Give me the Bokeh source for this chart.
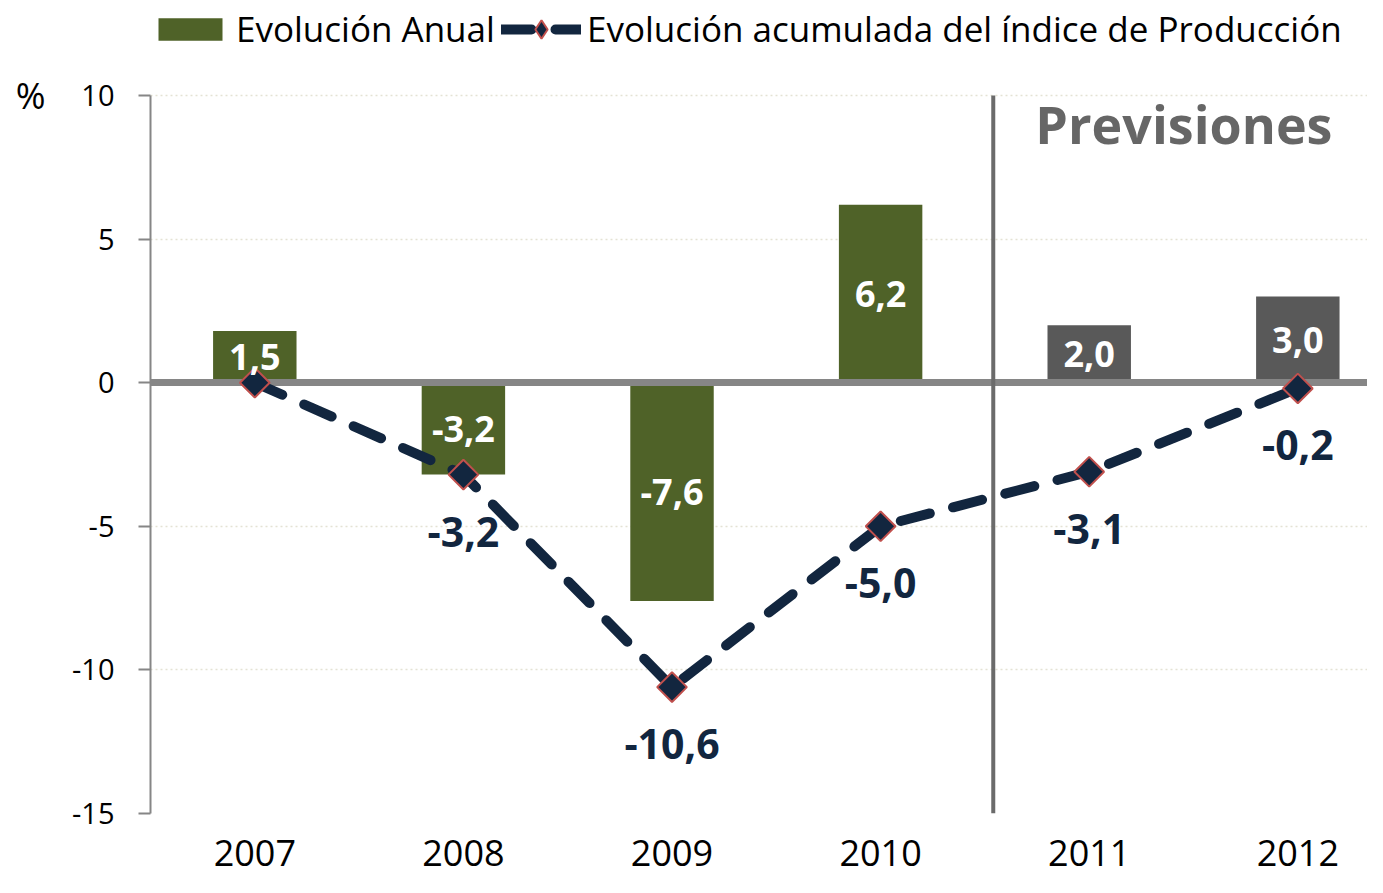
import math
from bokeh.plotting import figure
from bokeh.models import (Legend, LegendItem, Label, FixedTicker, ColumnDataSource,
                          Range1d, LinearAxis)
from bokeh.embed import file_html
from bokeh.resources import INLINE
from bokeh.core.properties import value

# ---------------- data ----------------
years = ["2007", "2008", "2009", "2010", "2011", "2012"]
annual = [1.8, -3.2, -7.6, 6.2, 2.0, 3.0]          # bar heights as drawn
annual_labels = ["1,5", "-3,2", "-7,6", "6,2", "2,0", "3,0"]
cumulative = [0.0, -3.2, -10.6, -5.0, -3.1, -0.2]
cumulative_labels = ["", "-3,2", "-10,6", "-5,0", "-3,1", "-0,2"]
is_forecast = [False, False, False, False, True, True]
forecast_split = 3.54
y_ticks = [-15, -10, -5, 0, 5, 10]
y_tick_labels = ["-15", "-10", "-5", "0", "5", "10"]

# ---------------- styles ----------------
GREEN = "#4F6228"
DARKGRAY = "#595959"
NAVY = "#12263F"
RED = "#C0504D"
FONT = "Open Sans"

idx = list(range(len(years)))
src = ColumnDataSource(dict(
    x=idx,
    annual=annual,
    half=[v / 2 for v in annual],
    alab=annual_labels,
    cum=cumulative,
    clab=cumulative_labels,
    color=[DARKGRAY if f else GREEN for f in is_forecast],
))

W, H = 1367, 877
Y_MIN, Y_MAX = y_ticks[0], y_ticks[-1]
# frame reaches the top of the canvas so that the legend can live inside it;
# the axis itself is bounded to the real value range
p = figure(width=W, height=H,
           x_range=Range1d(-0.5, 5.334), y_range=Range1d(Y_MIN, 13.308),
           output_backend="svg", toolbar_location=None,
           min_border_left=150, min_border_right=0,
           min_border_top=0, min_border_bottom=64)
p.outline_line_color = None
p.background_fill_color = "white"

# grid
p.xgrid.grid_line_color = None
p.ygrid.ticker = FixedTicker(ticks=y_ticks)
p.ygrid.grid_line_color = "#E4E2D4"
p.ygrid.grid_line_dash = "2 3"
p.ygrid.grid_line_width = 1.5

# y axis
p.yaxis.bounds = (Y_MIN, Y_MAX)
p.yaxis.ticker = FixedTicker(ticks=y_ticks)
p.yaxis.major_label_overrides = {t: s for t, s in zip(y_ticks, y_tick_labels)}
p.yaxis.axis_line_color = "#868686"
p.yaxis.axis_line_width = 2
p.yaxis.major_tick_line_color = "#868686"
p.yaxis.major_tick_line_width = 2
p.yaxis.major_tick_out = 12
p.yaxis.major_tick_in = 0
p.yaxis.minor_tick_line_color = None
p.yaxis.major_label_standoff = 24
p.yaxis.major_label_text_font = FONT
p.yaxis.major_label_text_font_size = "29px"
p.yaxis.major_label_text_color = "black"

# "%" unit marker as an outer left axis with a single tick at the top
unit_axis = LinearAxis(ticker=FixedTicker(ticks=[Y_MAX]),
                       major_label_overrides={Y_MAX: "%"},
                       axis_line_color=None, major_tick_line_color=None,
                       minor_tick_line_color=None, major_tick_out=0, major_tick_in=0,
                       major_label_standoff=24, major_label_text_font=FONT,
                       major_label_text_font_size="36px", major_label_text_color="black")
p.add_layout(unit_axis, "left")

# x axis
p.xaxis.ticker = FixedTicker(ticks=idx)
p.xaxis.major_label_overrides = {i: y for i, y in zip(idx, years)}
p.xaxis.axis_line_color = None
p.xaxis.major_tick_line_color = None
p.xaxis.minor_tick_line_color = None
p.xaxis.major_label_standoff = 20
p.xaxis.major_label_text_font = FONT
p.xaxis.major_label_text_font_size = "36px"
p.xaxis.major_label_text_color = "black"

# bars
bars = p.vbar(x="x", top="annual", bottom=0, width=0.40, source=src,
              fill_color="color", line_color=None)

# zero line & forecast separator
p.hspan(y=[0], line_color="#868686", line_width=7)
p.segment(x0=[forecast_split], y0=[Y_MIN], x1=[forecast_split], y1=[Y_MAX],
          line_color="#6B6B6B", line_width=4)

# cumulative line
line_r = p.line(x="x", y="cum", source=src, line_color=NAVY, line_width=10,
                line_dash="30 24", line_cap="round", line_join="round")
pts = p.scatter(x="x", y="cum", source=src, marker="square", angle=math.pi / 4,
                size=21, fill_color=NAVY, line_color=RED, line_width=2)
# diamond used only for the legend swatch (legend swatches ignore marker angle)
legend_pts = p.scatter(x="x", y="cum", source=src, marker="diamond", size=21,
                       fill_color=NAVY, line_color=RED, line_width=2, visible=False)

# data labels
p.text(x="x", y="half", text="alab", source=src, text_align="center",
       text_baseline="middle", text_color="white", text_font=value(FONT),
       text_font_size="36px", text_font_style="bold")
p.text(x="x", y="cum", text="clab", source=src, text_align="center",
       text_baseline="middle", text_color=NAVY, text_font=value(FONT),
       text_font_size="41px", text_font_style="bold", y_offset=57)

# annotation
p.add_layout(Label(x=5.166, y=9.02, text="Previsiones", text_align="right",
                   text_baseline="middle", text_font=FONT, text_font_size="52px",
                   text_font_style="bold", text_color="#666666"))

legend_style = dict(orientation="horizontal", padding=0, margin=0, spacing=8,
                    label_standoff=6, glyph_width=80,
                    label_text_font=FONT, label_text_font_size="35px",
                    label_text_color="black", border_line_color=None,
                    background_fill_alpha=0, inactive_fill_alpha=0)
legend_bars = Legend(items=[LegendItem(label="Evolución Anual", renderers=[bars])],
                     location=(0, 761), glyph_height=28, **legend_style)
legend_line = Legend(items=[LegendItem(label="Evolución acumulada del índice de Producción",
                                       renderers=[line_r, legend_pts])],
                     location=(351, 761), glyph_height=46, **legend_style)
p.add_layout(legend_bars, "center")
p.add_layout(legend_line, "center")

open("out.html", "w").write(file_html(p, INLINE))
